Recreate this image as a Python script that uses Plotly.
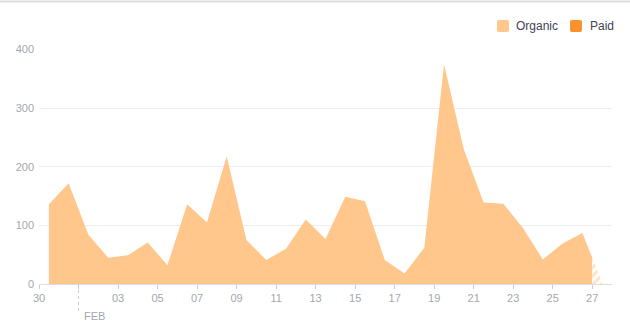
import datetime as dt
import plotly.graph_objects as go

# ---- data ----
start_day = dt.datetime(2023, 1, 30)
dates = [start_day + dt.timedelta(days=i, hours=12) for i in range(29)]
organic = [136, 172, 84, 45, 49, 71, 32, 136, 105, 218, 75, 41, 60, 110, 77,
           149, 141, 41, 18, 62, 375, 230, 139, 137, 95, 42, 69, 87, 3]
paid_label = "Paid"
organic_label = "Organic"
y_ticks = [0, 100, 200, 300, 400]
x_ticks = [start_day + dt.timedelta(days=2 * k) for k in range(15)]
x_ticktext = ["" if d.day == 1 else d.strftime("%d") for d in x_ticks]

ORG = "#FFC78B"
PAID = "#F8922D"
TICK = "#A3A7AE"
FONT = "Liberation Sans, Arial, sans-serif"

W, H = 630, 327
ML, MR, MT, MB = 39, 18, 49, 43
PW, PH = W - ML - MR, H - MT - MB


def px(xp):
    return (xp - ML) / PW


def py(yp):
    return (H - MB - yp) / PH


# split point: start of last (partial) day
split_x = dates[-1] - dt.timedelta(hours=12)
split_y = (organic[-2] + organic[-1]) / 2

fig = go.Figure()
fig.add_trace(go.Scatter(
    x=dates[:-1] + [split_x], y=organic[:-1] + [split_y], name=organic_label,
    mode="lines", fill="tozeroy", fillcolor=ORG,
    line=dict(width=0, color=ORG), showlegend=False, hoverinfo="skip"))
fig.add_trace(go.Scatter(
    x=[split_x, dates[-1]], y=[split_y, organic[-1]], name=organic_label,
    mode="lines", fill="tozeroy",
    fillpattern=dict(shape="/", fgcolor=ORG, bgcolor="white", size=6, solidity=0.5),
    line=dict(width=0, color=ORG), showlegend=False, hoverinfo="skip"))

# custom legend (rounded swatches + labels)
rr = "M 2,0 L 10,0 Q 12,0 12,2 L 12,10 Q 12,12 10,12 L 2,12 Q 0,12 0,10 L 0,2 Q 0,0 2,0 Z"
for sw_x, txt_x, label, col in [(497, 516, organic_label, ORG), (570, 590, paid_label, PAID)]:
    fig.add_shape(type="path", xref="paper", yref="paper", xsizemode="pixel",
                  ysizemode="pixel", xanchor=px(sw_x), yanchor=py(32), path=rr,
                  fillcolor=col, line=dict(width=0))
    fig.add_annotation(x=px(txt_x), y=py(26), xref="paper", yref="paper", text=label,
                       showarrow=False, xanchor="left", yanchor="middle", xshift=-2,
                       font=dict(size=12, color="#3F4352", family=FONT))

month_start = [d for d in x_ticks if d.day == 1][0]
fig.add_shape(type="line", xref="x", yref="paper", x0=month_start, x1=month_start,
              y0=0, y1=py(312), line=dict(color="#C8CBD0", width=1, dash="dot"))
fig.add_annotation(x=month_start, xref="x", yref="paper", y=py(316),
                   text=month_start.strftime("%b").upper(), showarrow=False,
                   xanchor="left", yanchor="middle", xshift=3,
                   font=dict(size=11, color=TICK, family=FONT))
fig.add_shape(type="line", xref="paper", yref="paper", x0=px(0), x1=px(W),
              y0=py(1.5), y1=py(1.5), line=dict(color="#DDDDDD", width=2))

fig.update_layout(
    width=W, height=H,
    margin=dict(l=ML, r=MR, t=MT, b=MB, autoexpand=False),
    paper_bgcolor="white", plot_bgcolor="white",
    font=dict(family=FONT, size=11, color=TICK),
    showlegend=False,
    xaxis=dict(type="date", range=[start_day, start_day + dt.timedelta(days=29)],
               tickvals=x_ticks, ticktext=x_ticktext, showgrid=False,
               showline=True, linecolor="#DDDDDD", linewidth=1,
               ticks="outside", ticklen=4, tickcolor="#CCCCCC",
               tickfont=dict(size=11, color=TICK), zeroline=False),
    yaxis=dict(range=[0, 401], tickvals=y_ticks, showgrid=True,
               gridcolor="#EEEEEE", gridwidth=1, zeroline=False,
               showline=False, ticks="", ticklabelstandoff=4,
               tickfont=dict(size=11, color=TICK)),
)
fig.write_html("out.html")
